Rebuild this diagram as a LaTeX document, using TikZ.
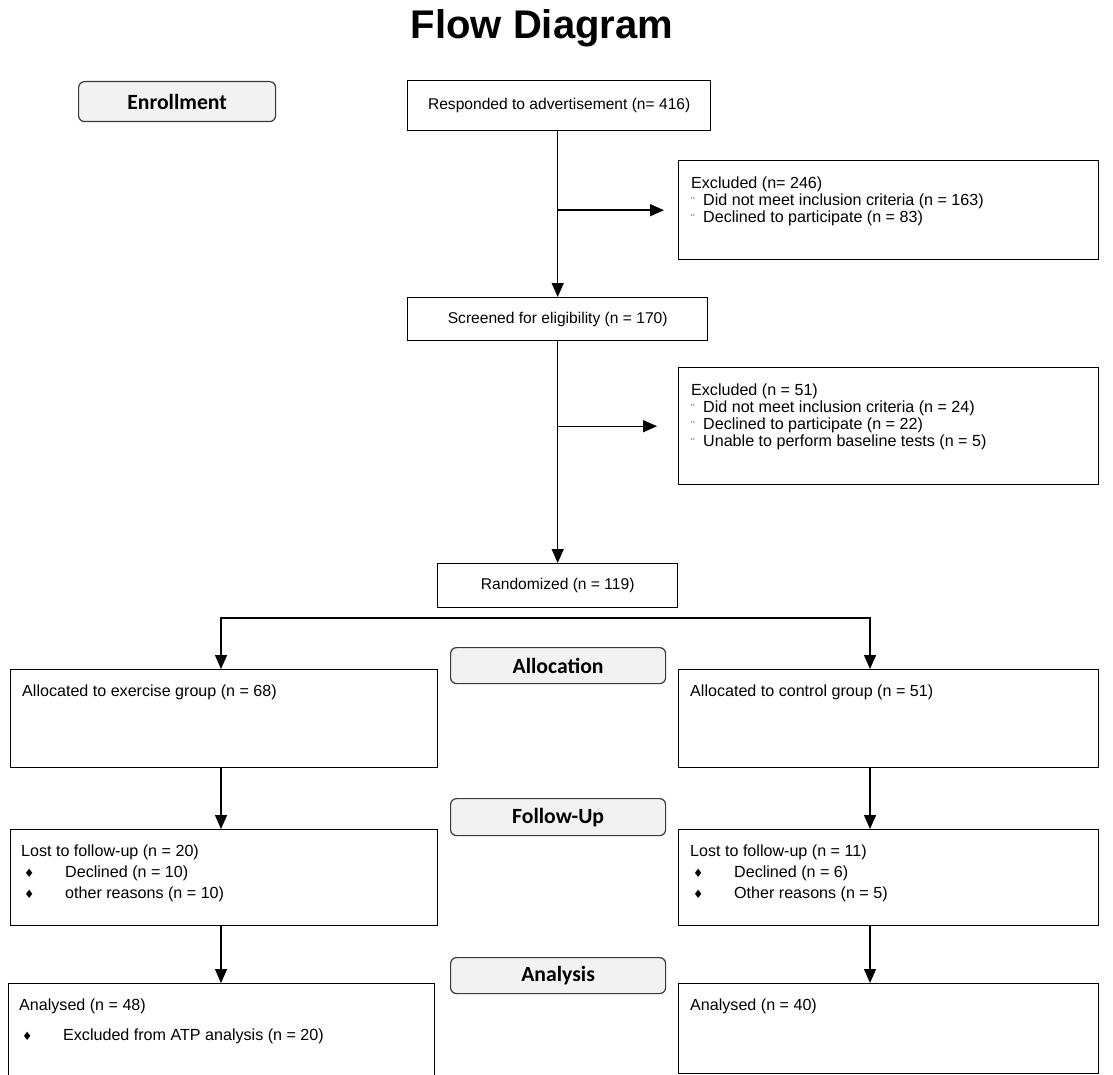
\documentclass[tikz,border=0pt]{standalone}
\usepackage{fontspec}
\setmainfont{Liberation Sans}
\newfontfamily\lblfont{Carlito}
\newfontfamily\symfont{DejaVu Sans}
\usetikzlibrary{arrows.meta,positioning}
\definecolor{lblfill}{HTML}{F2F2F2}
\definecolor{lbldraw}{HTML}{3A3A3A}
\newcommand{\exbul}{\makebox[12pt][l]{\fontsize{11}{11}\selectfont ¨}}
\newcommand{\dmbul}{\makebox[44pt][l]{\hspace{3pt}{\symfont\fontsize{11.5}{11}\selectfont ♦}}}
\tikzset{
  ar/.style={-{Triangle[length=14pt,width=12pt]},line width=1.4pt},
  frame/.style={draw,line width=1.4pt,anchor=north west,inner sep=0pt,font=\fontsize{15.6}{16.7}\selectfont},
  txt/.style={align=left,inner sep=0pt,font=\fontsize{16.1}{16.8}\selectfont},
  lst/.style={txt,font=\fontsize{16.1}{21}\selectfont},
  stage/.style={draw=lbldraw,line width=1.2pt,rounded corners=6pt,fill=lblfill,anchor=north west,inner sep=0pt,
    font=\lblfont\bfseries\fontsize{21.7}{24}\selectfont}
}
\begin{document}
\begin{tikzpicture}[x=1pt,y=-1pt]
\useasboundingbox (0,0) rectangle (1113,1075);
\node[font=\bfseries\fontsize{40}{44}\selectfont] (title) at (542,28) {Flow Diagram};

% stage labels
\node[stage,minimum width=197,minimum height=40] (enrol) at (78,81) {Enrollment};
\node[stage,minimum width=215,minimum height=36] (alloc) at (450,647) {Allocation};
\node[stage,minimum width=215,minimum height=37] (follow) at (450,798) {Follow-Up};
\node[stage,minimum width=215,minimum height=36] (analys) at (450,957) {Analysis};

% enrollment column
\node[frame,minimum width=303,minimum height=50] (resp) at (407,80) {Responded to advertisement (n= 416)};
\node[frame,minimum width=300,minimum height=43] (screen) at (407,297) {Screened for eligibility (n = 170)};
\node[frame,minimum width=240,minimum height=44] (rand) at (437,563) {Randomized (n = 119)};

\node[frame,minimum width=420,minimum height=99] (excl1) at (678,160) {};
\node[txt,below right=17pt and 13pt of excl1.north west] (excl1t) {Excluded (n= 246)\\
  \exbul Did not meet inclusion criteria (n = 163)\\
  \exbul Declined to participate (n = 83)};
\node[frame,minimum width=420,minimum height=117] (excl2) at (678,367) {};
\node[txt,below right=17pt and 13pt of excl2.north west] (excl2t) {Excluded (n = 51)\\
  \exbul Did not meet inclusion criteria (n = 24)\\
  \exbul Declined to participate (n = 22)\\
  \exbul Unable to perform baseline tests (n = 5)};

\draw[ar] (screen.north |- resp.south) -- (screen.north);
\coordinate (j1) at (screen.north |- excl1.west);
\coordinate (j1e) at ([xshift=-14pt]excl1.west);
\draw[ar] (j1) -- (j1e);
\draw[ar] (screen.south) -- (rand.north);
\coordinate (j2) at (screen.south |- excl2.west);
\coordinate (j2e) at ([xshift=-21pt]excl2.west);
\draw[ar] (j2) -- (j2e);

% two arms
\node[frame,minimum width=427,minimum height=98] (allocL) at (10,669) {};
\node[txt,below right=16pt and 12pt of allocL.north west] (allocLt) {Allocated to exercise group (n = 68)};
\node[frame,minimum width=420,minimum height=98] (allocR) at (678,669) {};
\node[txt,below right=16pt and 12pt of allocR.north west] (allocRt) {Allocated to control group (n = 51)};

\node[frame,minimum width=427,minimum height=96] (lostL) at (10,829) {};
\node[lst,below right=16pt and 11pt of lostL.north west] (lostLt) {Lost to follow-up (n = 20)\\
  \dmbul Declined (n = 10)\\
  \dmbul other reasons (n = 10)};
\node[frame,minimum width=420,minimum height=96] (lostR) at (678,829) {};
\node[lst,below right=16pt and 12pt of lostR.north west] (lostRt) {Lost to follow-up (n = 11)\\
  \dmbul Declined (n = 6)\\
  \dmbul Other reasons (n = 5)};

\node[frame,minimum width=426,minimum height=100] (analL) at (8,983) {};
\node[lst,below right=16pt and 11pt of analL.north west] (analLt) {Analysed (n = 48)\\[9pt]
  \dmbul Excluded from ATP analysis (n = 20)};
\node[frame,minimum width=420,minimum height=90] (analR) at (678,983) {};
\node[txt,below right=16pt and 12pt of analR.north west] (analRt) {Analysed (n = 40)};

\coordinate (splitL) at (221,618);
\coordinate (splitR) at (870,618);
\draw[ar] (splitR) -- (splitL) -- (allocL.north -| splitL);
\draw[ar] (splitL) -- (splitR) -- (allocR.north -| splitR);
\draw[line width=2pt] ([xshift=-37pt]rand.south |- splitL) -- ([xshift=14pt]rand.south |- splitL);
\draw[ar] (allocL.south -| splitL) -- (lostL.north -| splitL);
\draw[ar] (lostL.south -| splitL) -- (analL.north -| splitL);
\draw[ar] (allocR.south -| splitR) -- (lostR.north -| splitR);
\draw[ar] (lostR.south -| splitR) -- (analR.north -| splitR);
\end{tikzpicture}
\end{document}
